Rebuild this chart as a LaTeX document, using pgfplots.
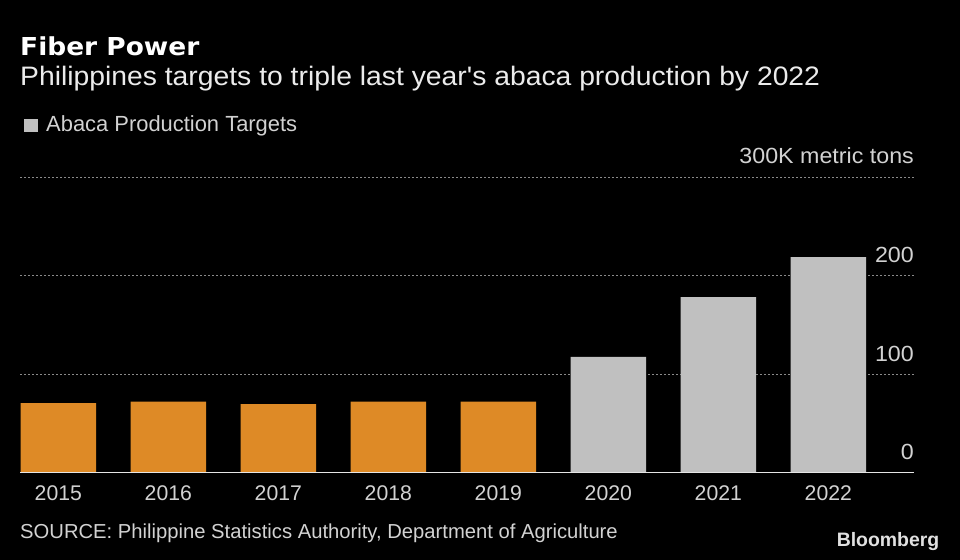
\documentclass[border=0pt]{standalone}
\usepackage{pgfplots}
\pgfplotsset{compat=1.18}
\usepackage{fontspec}
\setmainfont{Liberation Sans}
\newfontfamily\titlefont[FakeStretch=1.07]{DejaVu Sans}
\newfontfamily\widefont[FakeStretch=1.06]{Liberation Sans}
\definecolor{barorange}{HTML}{DE8A26}
\definecolor{bargray}{HTML}{C0C0C0}
\definecolor{txtgray}{HTML}{D2D2D2}
\definecolor{gridgray}{HTML}{8A8A8A}

\begin{document}
\begin{tikzpicture}[x=1bp,y=1bp]
  \fill[black] (0,0) rectangle (960,560);
  \useasboundingbox (0,0) rectangle (960,560);

  % titles and legend
  \node[anchor=base west, inner sep=0, white, font=\titlefont\fontsize{24.8}{30}\selectfont\bfseries] at (20,504) {Fiber Power};
  \node[anchor=base west, inner sep=0, white!92!black, font=\widefont\fontsize{26.8}{31}\selectfont] at (20,474) {Philippines targets to triple last year{\char"27}s abaca production by 2022};
  \fill[bargray] (24,428.3) rectangle (37.7,441);
  \node[anchor=base west, inner sep=0, txtgray, font=\fontsize{22}{25}\selectfont] at (46,428.3) {Abaca Production Targets};

  \begin{axis}[
    at={(20bp,87.3bp)}, anchor=south west,
    scale only axis,
    width=894bp, height=295.7bp,
    xmin=-0.3485, xmax=7.779,
    ymin=0, ymax=300,
    axis line style={draw=none},
    major tick length=0pt,
    xtick={0,1,2,3,4,5,6,7},
    xticklabels={2015,2016,2017,2018,2019,2020,2021,2022},
    xticklabel style={anchor=base, yshift=-28bp, txtgray, font=\fontsize{21.3}{25}\selectfont},
    ytick={0,100,200,300},
    yticklabels={0,100,200,300K metric tons},
    yticklabel pos=right,
    yticklabel style={anchor=base east, inner sep=0pt, xshift=0bp, yshift=13bp, txtgray, font=\widefont\fontsize{22}{25}\selectfont},
    ymajorgrids,
    grid style={gridgray, line width=0.9bp, dash pattern=on 1.5bp off 2.5bp},
    clip=false,
  ]
    \addplot[ybar, bar width=0.686, bar shift=0pt, fill=barorange, draw=none]
      coordinates {(0,70.6) (1,72.2) (2,69.6) (3,72.2) (4,72.2)};
    \addplot[ybar, bar width=0.686, bar shift=0pt, fill=bargray, draw=none]
      coordinates {(5,117.4) (6,178.0) (7,218.7)};
    \draw[white!90!black, line width=1.4bp] (rel axis cs:0,0) -- (rel axis cs:1,0);
  \end{axis}

  % footer
  \node[anchor=base west, inner sep=0, txtgray, font=\fontsize{20.3}{25}\selectfont] at (20,21) {SOURCE: Philippine Statistics Authority, Department of Agriculture};
  \node[anchor=base east, inner sep=0, white!88!black, font=\fontsize{19.5}{23}\selectfont\bfseries] at (939.5,13.3) {Bloomberg};
\end{tikzpicture}
\end{document}
